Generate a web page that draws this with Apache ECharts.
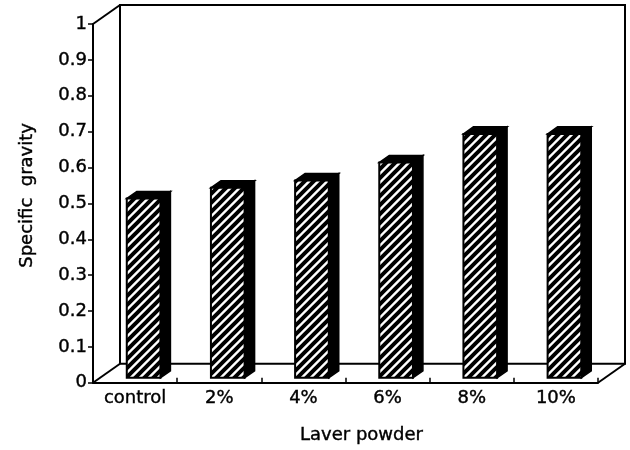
<!DOCTYPE html>
<html>
<head>
<meta charset="utf-8">
<script src="https://cdn.jsdelivr.net/npm/echarts@6/dist/echarts.min.js"></script>
<style>html,body{margin:0;padding:0;background:#fff;}#chart{width:630px;height:450px;}</style>
</head>
<body>
<div id="chart"></div>
<script>
// ---- data ----
const categories = ['control', '2%', '4%', '6%', '8%', '10%'];
const values = [0.50, 0.53, 0.55, 0.60, 0.68, 0.68];
const yMin = 0, yMax = 1, yStep = 0.1;

// ---- patterns ----
function makeHatch(size, lw, bg, fg) {
  const c = document.createElement('canvas');
  c.width = size; c.height = size;
  const g = c.getContext('2d');
  g.fillStyle = bg; g.fillRect(0, 0, size, size);
  g.strokeStyle = fg; g.lineWidth = lw;
  g.beginPath();
  g.moveTo(-size, size * 2); g.lineTo(size * 2, -size);
  g.moveTo(-size, size); g.lineTo(size, -size);
  g.moveTo(0, size * 2); g.lineTo(size * 2, 0);
  g.stroke();
  return c;
}
const hatch = makeHatch(9, 4, '#ffffff', '#000000');
const topHatch = makeHatch(9, 7, '#ffffff', '#000000');

const DEPTH = { x: 27, y: -19 };
const F1 = 0.26, F2 = 0.63;
const FONT = 'DejaVu Sans';
const FS = 18;
const TXT = { fontFamily: FONT, fontSize: FS, color: '#000', textBorderColor: '#000', textBorderWidth: 0.4 };

const chart = echarts.init(document.getElementById('chart'), null, { renderer: 'canvas' });

function renderFrame(params, api) {
  const cs = params.coordSys;
  const x = cs.x, y = cs.y, w = cs.width, h = cs.height;
  const st = { stroke: '#000', lineWidth: 2, fill: null };
  return {
    type: 'group',
    children: [
      { type: 'rect', shape: { x: x + DEPTH.x, y: y + DEPTH.y, width: w, height: h },
        style: { fill: '#fff', stroke: '#000', lineWidth: 2 } },
      { type: 'line', shape: { x1: x, y1: y, x2: x + DEPTH.x, y2: y + DEPTH.y }, style: st },
      { type: 'line', shape: { x1: x, y1: y + h, x2: x + DEPTH.x, y2: y + h + DEPTH.y }, style: st },
      { type: 'line', shape: { x1: x + w, y1: y + h, x2: x + w + DEPTH.x, y2: y + h + DEPTH.y }, style: st }
    ]
  };
}

function renderBar(params, api) {
  const idx = api.value(0), val = api.value(1);
  const base = api.coord([idx, 0]);
  const top = api.coord([idx, val]);
  const band = api.size([1, 0])[0];
  const w = band * 0.40;
  const x0 = base[0] - w / 2 + F1 * DEPTH.x + 1.5;
  const y0 = base[1] + F1 * DEPTH.y;
  const yt = top[1] + F1 * DEPTH.y;
  const dx = (F2 - F1) * DEPTH.x, dy = (F2 - F1) * DEPTH.y;
  return {
    type: 'group',
    children: [
      { type: 'polygon', shape: { points: [[x0 + w, y0], [x0 + w, yt], [x0 + w + dx, yt + dy], [x0 + w + dx, y0 + dy]] },
        style: { fill: '#000', stroke: '#000', lineWidth: 1.5 } },
      { type: 'polygon', shape: { points: [[x0, yt], [x0 + w, yt], [x0 + w + dx, yt + dy], [x0 + dx, yt + dy]] },
        style: { fill: { image: topHatch, repeat: 'repeat' }, stroke: '#000', lineWidth: 1.5 } },
      { type: 'rect', shape: { x: x0, y: yt, width: w, height: y0 - yt },
        style: { fill: { image: hatch, repeat: 'repeat' }, stroke: '#000', lineWidth: 2 } }
    ]
  };
}

chart.setOption({
  animation: false,
  backgroundColor: '#fff',
  grid: { left: 93, right: 32, top: 24, bottom: 66, containLabel: false },
  xAxis: {
    type: 'category',
    data: categories,
    name: 'Laver powder',
    nameLocation: 'middle',
    nameGap: 44,
    nameTextStyle: Object.assign({}, TXT, { padding: [0, 0, 0, 32] }),
    axisLine: { show: true, lineStyle: { color: '#000', width: 2 } },
    axisTick: { show: true, inside: true, length: 5, lineStyle: { color: '#000', width: 1.5 } },
    axisLabel: Object.assign({}, TXT, { margin: 7 }),
    splitLine: { show: false }
  },
  yAxis: {
    type: 'value',
    min: yMin, max: yMax, interval: yStep,
    name: 'Specific  gravity',
    nameLocation: 'middle',
    nameGap: 57,
    nameTextStyle: Object.assign({}, TXT, { padding: [0, 0, 0, 16] }),
    axisLine: { show: true, lineStyle: { color: '#000', width: 2 } },
    axisTick: { show: true, inside: false, length: 5, lineStyle: { color: '#000', width: 1.5 } },
    axisLabel: Object.assign({}, TXT, { margin: 6 }),
    splitLine: { show: false }
  },
  series: [
    { type: 'custom', name: 'frame', renderItem: renderFrame, data: [[0, 0]], z: 1, silent: true },
    { type: 'custom', name: 'Specific gravity', renderItem: renderBar,
      data: values.map((v, i) => [i, v]), z: 3, encode: { x: 0, y: 1 } }
  ]
});
</script>
</body>
</html>
